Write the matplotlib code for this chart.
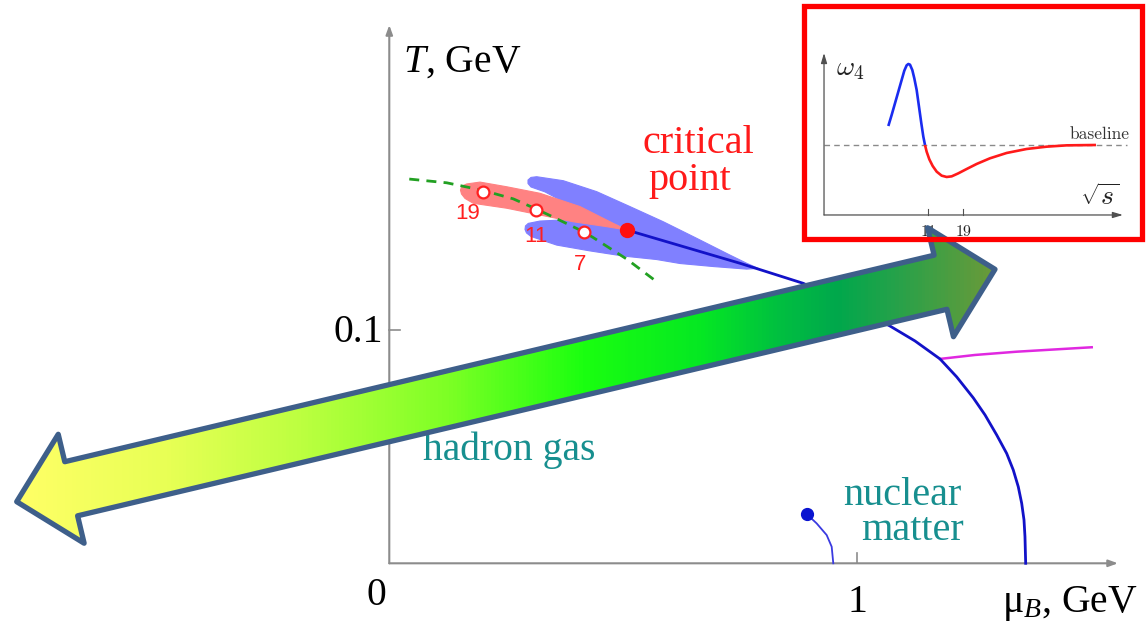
import numpy as np
import matplotlib
matplotlib.use("Agg")
import matplotlib.pyplot as plt
from matplotlib.patches import Polygon, Rectangle
from matplotlib.colors import LinearSegmentedColormap

SERIF = ["Liberation Serif", "DejaVu Serif"]
plt.rcParams["font.family"] = SERIF
plt.rcParams["mathtext.fontset"] = "custom"
plt.rcParams["mathtext.rm"] = "Liberation Serif"
plt.rcParams["mathtext.it"] = "Liberation Serif:italic"

# ---------------- phase diagram data (mu_B, T in GeV) ----------------
crossover_mu = [0.507, 0.7494, 0.8846, 0.9737, 1.0699, 1.1233, 1.1767, 1.2124,
                1.2479, 1.2729, 1.2979, 1.3192, 1.3333, 1.3440, 1.3513, 1.3562,
                1.3583, 1.3598]
crossover_T = [0.1429, 0.1286, 0.1200, 0.1116, 0.1017, 0.0953, 0.0876, 0.0799,
               0.0709, 0.0636, 0.0550, 0.0471, 0.0400, 0.0328, 0.0257, 0.0186,
               0.0114, 0.0]

critical_mu = [0.5073]
critical_T = [0.1429]

freezeout_mu = [0.0427, 0.1226, 0.2009, 0.2650, 0.3135, 0.3504, 0.4160, 0.4359,
                0.5073, 0.5714]
freezeout_T = [0.1647, 0.1631, 0.1598, 0.1562, 0.1519, 0.1484, 0.1420, 0.1396,
               0.1304, 0.1207]

energy_labels = ["19", "11", "7"]
energy_mu = [0.2009, 0.3135, 0.4160]
energy_T = [0.1593, 0.1514, 0.1420]
energy_label_offset = [(-11.4, -19.9), (0.0, -22.8), (-2.9, -27.4)]  # points

liquid_gas_mu = [0.8919, 0.9132, 0.9346, 0.9453, 0.9487]
liquid_gas_T = [0.0211, 0.0171, 0.0121, 0.0071, 0.0]

magenta_mu = [1.1767, 1.2515, 1.3406, 1.5009]
magenta_T = [0.0876, 0.0893, 0.0907, 0.0926]

# fluctuation regions around the critical point
blue_region_mu = [0.7885, 0.7637, 0.7280, 0.6568, 0.5855, 0.5143, 0.4432, 0.3718,
                  0.3150, 0.3028, 0.2964, 0.2964, 0.3028, 0.3327, 0.3718, 0.4432,
                  0.5073, 0.4502, 0.3932, 0.3220, 0.2970, 0.2910, 0.2900, 0.2932,
                  0.3028, 0.3577, 0.4288, 0.5000, 0.5714, 0.6212, 0.6923, 0.7637]
blue_region_T = [0.1264, 0.1286, 0.1321, 0.1393, 0.1464, 0.1529, 0.1593, 0.1640,
                 0.1657, 0.1654, 0.1643, 0.1628, 0.1613, 0.1592, 0.1550, 0.1486,
                 0.1436, 0.1463, 0.1474, 0.1467, 0.1457, 0.1446, 0.1431, 0.1416,
                 0.1401, 0.1364, 0.1339, 0.1317, 0.1302, 0.1285, 0.1272, 0.1261]
red_region_mu = [0.1553, 0.1654, 0.1938, 0.2509, 0.3220, 0.4075, 0.4786, 0.5073,
                 0.4645, 0.3932, 0.3220, 0.2509, 0.1795, 0.1618, 0.1543, 0.1521]
red_region_T = [0.1617, 0.1626, 0.1634, 0.1614, 0.1586, 0.1529, 0.1457, 0.1429,
                0.1443, 0.1464, 0.1493, 0.1522, 0.1543, 0.1564, 0.1583, 0.1600]

# ---------------- inset: omega_4 vs sqrt(s) ----------------
w4_blue_s = [5.893, 6.208, 6.540, 6.889, 7.257, 7.565, 7.846, 8.052, 8.265,
             8.571, 8.843, 9.173, 9.513, 9.866, 10.18, 10.45]
w4_blue = [1.271, 1.429, 1.596, 1.762, 1.929, 2.062, 2.138, 2.157, 2.148,
           2.071, 1.952, 1.786, 1.548, 1.310, 1.119, 1.000]
w4_red_s = [10.45, 10.72, 11.18, 11.78, 12.54, 13.55, 14.66, 15.85, 17.58,
            20.03, 23.41, 28.83, 37.40, 51.11, 69.86, 95.47, 150.9]
w4_red = [1.000, 0.905, 0.795, 0.700, 0.619, 0.562, 0.543, 0.552, 0.595,
          0.657, 0.729, 0.810, 0.886, 0.943, 0.976, 0.995, 1.000]
w4_baseline = 1.0
inset_ticks = [11, 19]

# ---------------- figure ----------------
W, H = 1146, 623
fig = plt.figure(figsize=(W / 100, H / 100), dpi=100)
fig.patch.set_facecolor("white")

ax = fig.add_axes([0, 0, 1, 1], zorder=0)
ax.set_xlim(-0.8318, 1.6169)
ax.set_ylim(-0.02559, 0.24145)
ax.axis("off")

axis_gray = "#8c8c8c"
ax.annotate("", xy=(1.557, 0), xytext=(0, 0),
            arrowprops=dict(arrowstyle="-|>,head_length=0.55,head_width=0.2",
                            color=axis_gray, lw=1.5, shrinkA=0, shrinkB=0))
ax.annotate("", xy=(0, 0.2307), xytext=(0, 0),
            arrowprops=dict(arrowstyle="-|>,head_length=0.55,head_width=0.2",
                            color=axis_gray, lw=1.5, shrinkA=0, shrinkB=0))
ax.plot([1, 1], [0, 0.0043], color=axis_gray, lw=1.2)
ax.plot([0, 0.0235], [0.1, 0.1], color=axis_gray, lw=1.2)

ax.text(-0.0284, -0.0179, "0", fontsize=28.5, family=SERIF, ha="center", va="baseline")
ax.text(1.0, -0.0207, "1", fontsize=28.5, family=SERIF, ha="center", va="baseline")
ax.text(-0.0135, 0.0950, "0.1", fontsize=28.5, family=SERIF, ha="right", va="baseline")
ax.text(0.0299, 0.2107, "$T$, GeV", fontsize=28.5, family=SERIF, ha="left",
        va="baseline")
ax.text(1.3085, -0.0207, "μ$_{B}$, GeV", fontsize=28.5, family=SERIF, ha="left",
        va="baseline")

ax.fill(blue_region_mu, blue_region_T, color="#8080ff", lw=0.8, ec="#8080ff",
        joinstyle="round", zorder=2)
ax.fill(red_region_mu, red_region_T, color="#ff8282", lw=0.8, ec="#ff8282",
        joinstyle="round", zorder=3)
ax.plot(crossover_mu, crossover_T, color="#1212c8", lw=2.0, zorder=4,
        solid_joinstyle="round")
ax.plot(freezeout_mu, freezeout_T, color="#22a022", lw=2.0, ls=(0, (3.6, 2.6)),
        zorder=5)
ax.plot(energy_mu, energy_T, "o", mfc="white", mec="#ff2020", ms=8.5, mew=1.6,
        zorder=6)
for lab, m, t, off in zip(energy_labels, energy_mu, energy_T, energy_label_offset):
    ax.annotate(lab, (m, t), xytext=off, textcoords="offset points",
                fontsize=16, family="Liberation Sans", color="#ff2020",
                ha="center", va="baseline", zorder=6)
ax.plot(critical_mu, critical_T, "o", color="#ff1010", ms=10, zorder=7)

ax.plot(liquid_gas_mu, liquid_gas_T, color="#3a3ae0", lw=1.3, zorder=4)
ax.plot(liquid_gas_mu[:1], liquid_gas_T[:1], "o", color="#0a14d0", ms=8.5, zorder=5)
ax.plot(magenta_mu, magenta_T, color="#e028e0", lw=1.8, zorder=3)

ax.text(0.540, 0.1757, "critical", fontsize=29, family=SERIF, color="#ff1a1a",
        ha="left", va="baseline")
ax.text(0.5528, 0.1600, "point", fontsize=29, family=SERIF, color="#ff1a1a",
        ha="left", va="baseline")
teal = "#178f8f"
ax.text(0.0726, 0.0443, "hadron gas", fontsize=28.5, family=SERIF, color=teal,
        ha="left", va="baseline")
ax.text(1.2231, 0.0250, "nuclear", fontsize=29, family=SERIF, color=teal,
        ha="right", va="baseline")
ax.text(1.2280, 0.0100, "matter", fontsize=29, family=SERIF, color=teal,
        ha="right", va="baseline")

# ---------------- inset ----------------
ix0, iy0, iw, ih = 803.5, 238.5, 338.0, 233.0
axin = fig.add_axes([ix0 / W, (H - iy0) / H, iw / W, ih / H], zorder=1)
axin.set_xscale("log")
axin.set_xlim(1.567, 307.2)
axin.set_ylim(-0.336, 2.993)
axin.axis("off")

ink = "#505050"
axin.annotate("", xy=(0.945, 0), xytext=(0.0607, 0),
              xycoords=("axes fraction", "data"),
              arrowprops=dict(arrowstyle="-|>,head_length=0.6,head_width=0.18",
                              color=ink, lw=0.9, shrinkA=0, shrinkB=0))
axin.annotate("", xy=(0.0607, 2.314), xytext=(0.0607, 0),
              xycoords=("axes fraction", "data"),
              arrowprops=dict(arrowstyle="-|>,head_length=0.6,head_width=0.18",
                              color=ink, lw=0.9, shrinkA=0, shrinkB=0))
axin.axhline(w4_baseline, xmin=0.0607, xmax=0.957, color="#8a8a8a", lw=1.0,
             ls=(0, (4, 3)))
for t in inset_ticks:
    axin.plot([t, t], [0, 0.09], color=ink, lw=0.8)
    axin.text(t, -0.14, str(t), fontsize=11.5, family="cmr10", color="#222222",
              ha="center", va="top")
axin.plot(w4_blue_s, w4_blue, color="#1a2cf0", lw=1.9, solid_capstyle="butt",
          solid_joinstyle="round")
axin.plot(w4_red_s, w4_red, color="#ff1a1a", lw=1.9, solid_capstyle="butt",
          solid_joinstyle="round")
axin.text(0.966, 0.4258, "baseline", transform=axin.transAxes, fontsize=12.5,
          family="cmr10", color="#333333", ha="right", va="baseline")
axin.text(0.096, 0.70, r"$\omega_4$", transform=axin.transAxes, fontsize=20,
          math_fontfamily="cm", color="#222222", ha="left", va="baseline")
axin.text(0.818, 0.12, r"$\sqrt{s}$", transform=axin.transAxes, fontsize=20,
          math_fontfamily="cm", color="#222222", ha="left", va="bottom")

# ---------------- overlay: broad arrow and inset frame ----------------
ov = fig.add_axes([0, 0, 1, 1], zorder=2)
ov.patch.set_alpha(0)

tail = np.array([16.7, 501.7])
tip = np.array([995.0, 269.3])
head_len, shaft_half, head_half = 56.0, 27.8, 56.0
u = (tip - tail) / np.hypot(*(tip - tail))
n = np.array([u[1], -u[0]]) * -1
a0, a1 = tail + u * head_len, tip - u * head_len
outline = np.array([
    tail, a0 - n * head_half, a0 - n * shaft_half, a1 - n * shaft_half,
    a1 - n * head_half, tip, a1 + n * head_half, a1 + n * shaft_half,
    a0 + n * shaft_half, a0 + n * head_half,
])

grad_cmap = LinearSegmentedColormap.from_list("band", [
    (0.00, "#ffff66"), (0.15, "#e8ff55"), (0.29, "#bcff40"), (0.44, "#7dff25"),
    (0.58, "#1aff10"), (0.70, "#05e823"), (0.78, "#00c040"), (0.84, "#00a84c"),
    (0.90, "#25a24a"), (1.00, "#6a9a3a"),
])
clip_poly = Polygon(outline, closed=True, fc="none", ec="none")
ov.add_patch(clip_poly)
im = ov.imshow(np.linspace(0, 1, 256)[None, :], cmap=grad_cmap, aspect="auto",
               extent=(tail[0], tip[0], 560, 215), zorder=3, interpolation="bilinear")
im.set_clip_path(clip_poly)
ov.add_patch(Polygon(outline, closed=True, fill=False, ec="#3e5f8a", lw=3.8,
                     joinstyle="round", zorder=4))
ov.add_patch(Rectangle((0, 0), 1, 1, transform=axin.transAxes, fill=False,
                       ec="#ff0000", lw=3.8, zorder=10, clip_on=False))
ov.set_xlim(0, W)
ov.set_ylim(H, 0)
ov.axis("off")

fig.savefig("out.png", dpi=100, facecolor="white")
